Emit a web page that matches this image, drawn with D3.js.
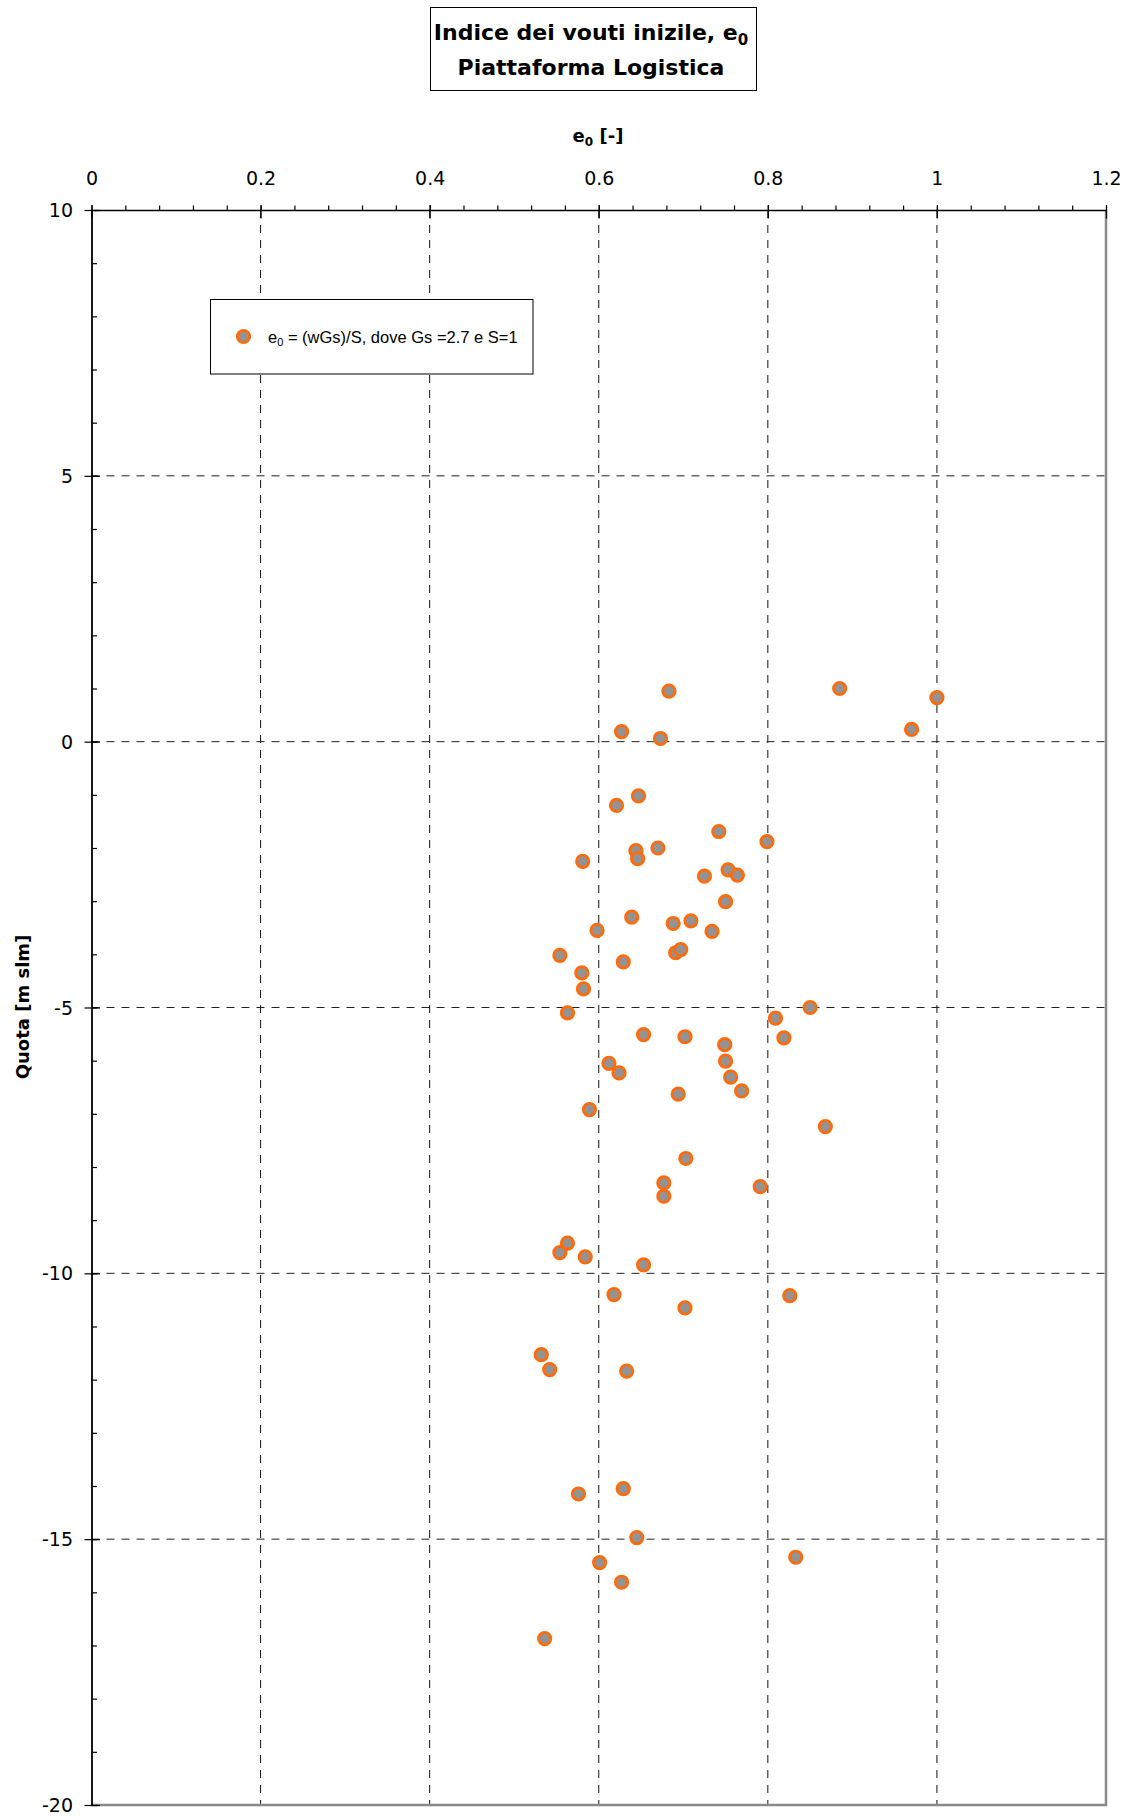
<!DOCTYPE html>
<html>
<head>
<meta charset="utf-8">
<script src="https://cdn.jsdelivr.net/npm/d3@7"></script>
<style>
  html, body { margin: 0; padding: 0; background: #fff; }
  svg { display: block; }
</style>
</head>
<body>
<svg id="chart" width="1130" height="1818"></svg>
<script>
// ---- data ----
const e0Values = [
  0.683, 0.885, 1.000, 0.970, 0.627, 0.673, 0.647, 0.621, 0.742, 0.799,
  0.670, 0.644, 0.646, 0.581, 0.725, 0.753, 0.764, 0.750, 0.639, 0.598,
  0.688, 0.709, 0.734, 0.554, 0.629, 0.691, 0.697, 0.580, 0.582,
  0.563, 0.850, 0.809, 0.819, 0.653, 0.702, 0.749, 0.750, 0.756, 0.769,
  0.612, 0.624, 0.694, 0.589, 0.868, 0.703, 0.677, 0.677, 0.791, 0.563,
  0.554, 0.584, 0.653, 0.618, 0.826, 0.702, 0.532, 0.542, 0.633,
  0.576, 0.629, 0.645, 0.601, 0.627, 0.833, 0.536
];
const quotaValues = [
  0.95, 1.00, 0.83, 0.23, 0.19, 0.06, -1.02, -1.20, -1.69, -1.88,
  -2.00, -2.05, -2.20, -2.25, -2.53, -2.41, -2.51, -3.01, -3.30, -3.55,
  -3.42, -3.37, -3.57, -4.02, -4.14, -3.97, -3.91, -4.35, -4.65,
  -5.10, -5.00, -5.20, -5.57, -5.51, -5.55, -5.70, -6.01, -6.31, -6.57,
  -6.05, -6.23, -6.63, -6.92, -7.24, -7.84, -8.30, -8.55, -8.37, -9.43,
  -9.61, -9.69, -9.84, -10.40, -10.42, -10.65, -11.53, -11.81, -11.84,
  -14.15, -14.05, -14.97, -15.44, -15.81, -15.34, -16.87
];
const xTicks = [0, 0.2, 0.4, 0.6, 0.8, 1.0, 1.2];
const xTickLabels = ["0", "0.2", "0.4", "0.6", "0.8", "1", "1.2"];
const yTicks = [10, 5, 0, -5, -10, -15, -20];
const yTickLabels = ["10", "5", "0", "-5", "-10", "-15", "-20"];
const xGrid = [0.2, 0.4, 0.6, 0.8, 1.0];
const yGrid = [5, 0, -5, -10, -15];

const titleLine1 = "Indice dei vouti inizile, e";
const titleLine2 = "Piattaforma Logistica";
const xTitle = "e";
const yTitle = "Quota [m slm]";
const legendText = " = (wGs)/S, dove Gs =2.7 e S=1";

// ---- layout ----
const pLeft = 91.5, pRight = 1106, pTop = 210, pBottom = 1805;
const x = d3.scaleLinear().domain([0, 1.2]).range([pLeft, pRight]);
const y = d3.scaleLinear().domain([-20, 10]).range([pBottom, pTop]);

const svg = d3.select("#chart");
const font = "'DejaVu Sans', sans-serif";

// title box
svg.append("rect").attr("x", 430.5).attr("y", 7.5).attr("width", 326).attr("height", 83)
  .attr("fill", "#fff").attr("stroke", "#000").attr("stroke-width", 1);
const t1 = svg.append("text").attr("x", 591).attr("y", 40).attr("text-anchor", "middle")
  .attr("font-family", font).attr("font-weight", "bold").attr("font-size", 22).attr("fill", "#000");
t1.append("tspan").text(titleLine1);
t1.append("tspan").attr("dy", 5).attr("font-size", 15).text("0");
svg.append("text").attr("x", 591).attr("y", 75).attr("text-anchor", "middle")
  .attr("font-family", font).attr("font-weight", "bold").attr("font-size", 22).attr("fill", "#000")
  .text(titleLine2);

// x axis title
const xt = svg.append("text").attr("x", 598).attr("y", 142).attr("text-anchor", "middle")
  .attr("font-family", font).attr("font-weight", "bold").attr("font-size", 18).attr("fill", "#000");
xt.append("tspan").text(xTitle);
xt.append("tspan").attr("dy", 4).attr("font-size", 12).text("0");
xt.append("tspan").attr("dy", -4).text(" [-]");

// y axis title
svg.append("text").attr("transform", "translate(29,1007) rotate(-90)").attr("text-anchor", "middle")
  .attr("font-family", font).attr("font-weight", "bold").attr("font-size", 18).attr("fill", "#000")
  .text(yTitle);

// grid
const grid = svg.append("g");
grid.selectAll("line.vg").data(xGrid).join("line").attr("class", "vg")
  .attr("x1", d => x(d)).attr("x2", d => x(d)).attr("y1", pTop).attr("y2", pBottom)
  .attr("stroke", "#111").attr("stroke-width", 1).attr("stroke-dasharray", "8,7");
grid.selectAll("line.hg").data(yGrid).join("line").attr("class", "hg")
  .attr("x1", pLeft).attr("x2", pRight).attr("y1", d => y(d)).attr("y2", d => y(d))
  .attr("stroke", "#222").attr("stroke-width", 1).attr("stroke-dasharray", "8,7");

// right & bottom borders (gray)
svg.append("line").attr("x1", pRight).attr("x2", pRight).attr("y1", pTop).attr("y2", pBottom + 1)
  .attr("stroke", "#8a8a8a").attr("stroke-width", 2.5);
svg.append("line").attr("x1", pLeft).attr("x2", pRight + 1).attr("y1", pBottom).attr("y2", pBottom)
  .attr("stroke", "#8a8a8a").attr("stroke-width", 2.5);

// top axis: minor ticks (outward)
const xMinor = d3.range(0, 31).map(i => +(i * 0.04).toFixed(2));
const xMinorAxis = d3.axisTop(x).tickValues(xMinor).tickSize(4.5).tickFormat("");
const gxm = svg.append("g").attr("transform", `translate(0,${pTop})`).call(xMinorAxis);
gxm.select(".domain").remove();
gxm.selectAll(".tick line").attr("stroke", "#000").attr("stroke-width", 1.2);
// top axis: major ticks (crossing) + labels
const xAxis = d3.axisTop(x).tickValues(xTicks).tickSizeInner(-8.5).tickSizeOuter(0)
  .tickFormat((d, i) => xTickLabels[i]);
const gx = svg.append("g").attr("transform", `translate(0,${pTop})`).call(xAxis);
gx.selectAll(".tick line").attr("y1", -5).attr("stroke", "#000").attr("stroke-width", 1.2);
gx.selectAll(".tick text").attr("y", -25).attr("dy", 0)
  .attr("font-family", font).attr("font-size", 19).attr("fill", "#000");
gx.select(".domain").attr("stroke", "#000").attr("stroke-width", 1.5);

// left axis: minor ticks (inward)
const yMinor = d3.range(-20, 11, 1);
const yMinorAxis = d3.axisLeft(y).tickValues(yMinor).tickSize(-5.5).tickFormat("");
const gym = svg.append("g").attr("transform", `translate(${pLeft},0)`).call(yMinorAxis);
gym.select(".domain").remove();
gym.selectAll(".tick line").attr("stroke", "#000").attr("stroke-width", 1.2);
// left axis: major ticks (crossing) + labels
const yAxis = d3.axisLeft(y).tickValues(yTicks).tickSizeInner(7).tickSizeOuter(0)
  .tickFormat((d, i) => yTickLabels[i]);
const gy = svg.append("g").attr("transform", `translate(${pLeft},0)`).call(yAxis);
gy.selectAll(".tick line").attr("x2", 8.5).attr("x1", -7).attr("stroke", "#000").attr("stroke-width", 1.2);
gy.selectAll(".tick text").attr("x", -18.5).attr("dy", "0.35em")
  .attr("font-family", font).attr("font-size", 19).attr("fill", "#000");
gy.select(".domain").attr("stroke", "#000").attr("stroke-width", 1.8);

// legend
svg.append("rect").attr("x", 210.5).attr("y", 299.5).attr("width", 322.5).attr("height", 74.5)
  .attr("fill", "#fff").attr("stroke", "#000").attr("stroke-width", 1);
svg.append("circle").attr("cx", 243.5).attr("cy", 336.5).attr("r", 6.2)
  .attr("fill", "#939393").attr("stroke", "#ff6a0a").attr("stroke-width", 2.8);
const lt = svg.append("text").attr("x", 268).attr("y", 342.5)
  .attr("font-family", "'Liberation Sans', Arial, sans-serif").attr("font-size", 16.5).attr("fill", "#000");
lt.append("tspan").text("e");
lt.append("tspan").attr("dy", 3).attr("font-size", 11).text("0");
lt.append("tspan").attr("dy", -3).text(legendText);

// points
const pts = e0Values.map((v, i) => ({ e: v, q: quotaValues[i] }));
svg.append("g").selectAll("circle").data(pts).join("circle")
  .attr("cx", d => x(d.e)).attr("cy", d => y(d.q)).attr("r", 6.2)
  .attr("fill", "#939393").attr("stroke", "#ff6a0a").attr("stroke-width", 2.8);
</script>
</body>
</html>
